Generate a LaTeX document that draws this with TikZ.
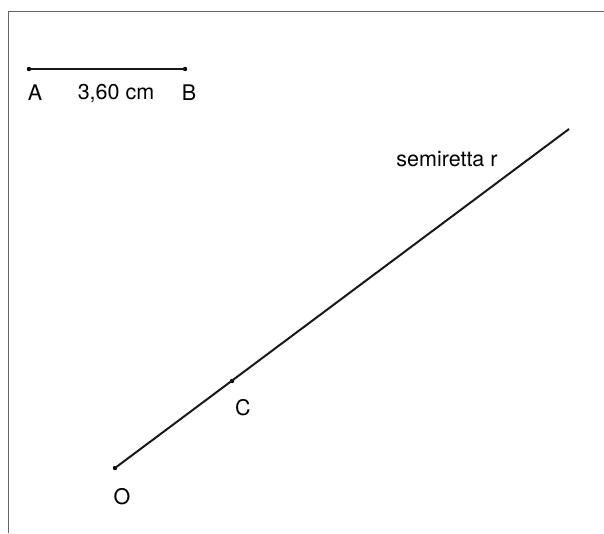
\documentclass[tikz,border=0pt]{standalone}
\usepackage{fontspec}
\setmainfont{TeX Gyre Heros}
\usetikzlibrary{positioning}

\begin{document}
\begin{tikzpicture}[
    x=1pt, y=-1pt,
    seg/.style={line width=2pt, black!90},
    frame/.style={line width=1pt, gray!80!black},
    pt/.style={circle, fill=black, inner sep=0pt, minimum size=4.4pt},
    lbl/.style={font=\fontsize{21.5}{25}\selectfont, inner sep=0pt},
]
    \useasboundingbox (0,0) rectangle (604,533);
    \draw[frame] (604,11) -- (8,11) -- (8,533);

    % segment AB
    \node[pt] (A) at (29,69) {};
    \node[pt] (B) at (185,69) {};
    \draw[seg] (A.center) -- (B.center);
    \node[lbl] (lA) at ([shift={(6,24)}]A) {A};
    \node[lbl] (lB) at ([shift={(4,24)}]B) {B};
    \node[lbl] (lAB) at (116,93) {3,60 cm};

    % ray r
    \node[pt] (O) at (115,468) {};
    \node[pt] (C) at (232,381) {};
    \coordinate (R) at (569,129);
    \draw[seg] (O.center) -- (R);
    \node[lbl] (lO) at ([shift={(7,29)}]O) {O};
    \node[lbl] (lC) at ([shift={(11,27)}]C) {C};
    \node[lbl] (lr) at (447,159) {semiretta r};
\end{tikzpicture}
\end{document}
